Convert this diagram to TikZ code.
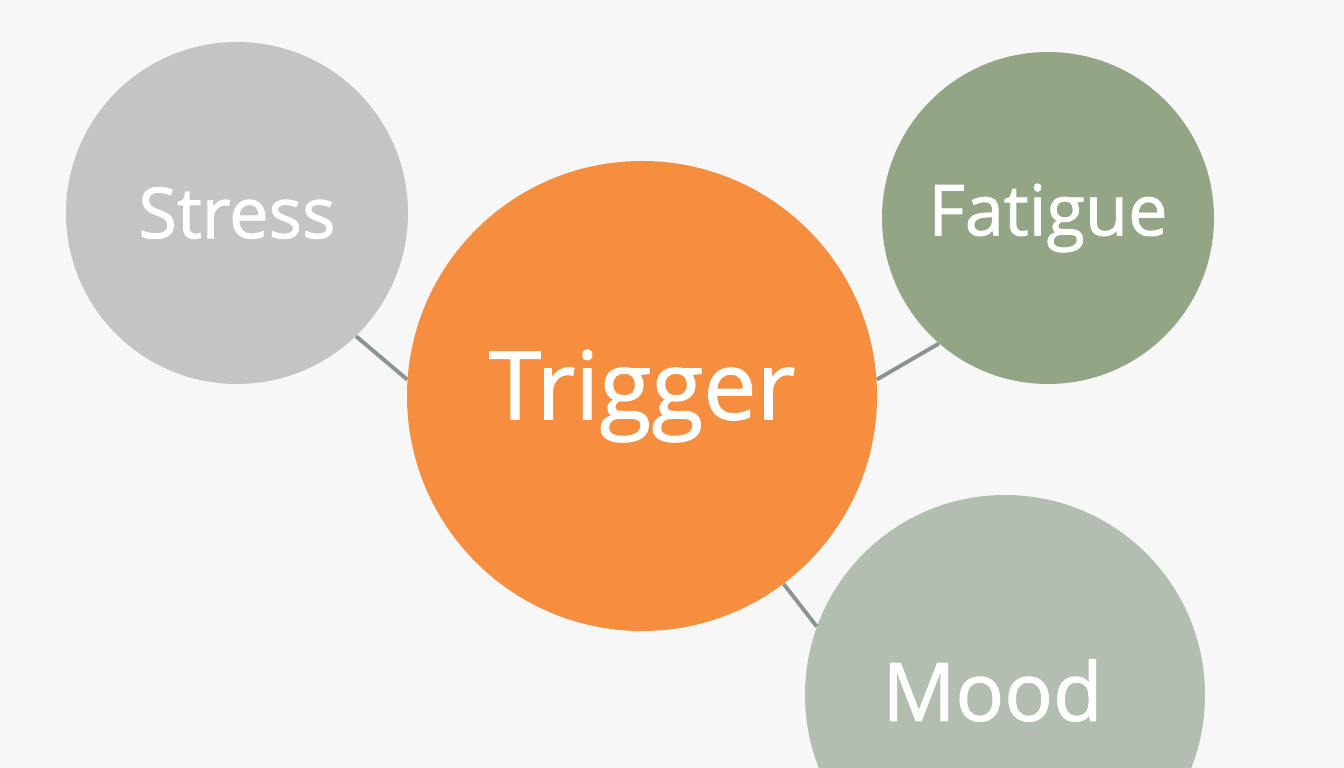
\documentclass[tikz,border=0pt]{standalone}
\usepackage{fontspec}
\setmainfont{Open Sans}[AutoFakeBold=1.2]
\definecolor{bgcol}{HTML}{F7F7F7}
\definecolor{stresscol}{HTML}{C4C4C2}
\definecolor{triggercol}{HTML}{F58E3F}
\definecolor{fatiguecol}{HTML}{93A585}
\definecolor{moodcol}{HTML}{B2BFB0}
\definecolor{linkcol}{HTML}{8A9590}
\tikzset{
  bubble/.style={circle, inner sep=0pt, text=white},
  link/.style={draw=linkcol, line width=2.2pt}
}
\begin{document}
\begin{tikzpicture}

    % canvas
    \clip (0, 0) rectangle (26.88, 15.36);
    \fill[bgcol] (0, 0) rectangle (26.88, 15.36);

    % bubbles
    \node[bubble, fill=stresscol, minimum size=6.84cm, font=\fontsize{40}{44}\selectfont\bfseries] (stress) at (4.74, 11.1) {Stress};
    \node[bubble, fill=triggercol, minimum size=9.4cm, font=\fontsize{54}{60}\selectfont\bfseries] (trigger) at (12.84, 7.44) {Trigger};
    \node[bubble, fill=fatiguecol, minimum size=6.64cm, font=\fontsize{40}{44}\selectfont\bfseries] (fatigue) at (20.96, 11.0) {Fatigue};
    \node[bubble, fill=moodcol, minimum size=8.0cm] (mood) at (20.1, 1.46) {};
    \node[text=white, font=\fontsize{46}{50}\selectfont\bfseries] (moodlabel) at (19.85, 1.55) {Mood};

    % links
    \draw[link] (stress.-46.7) -- (trigger.176);
    \draw[link] (trigger.4) -- (fatigue.-131.6);
    \draw[link] (trigger.-53) -- (mood.160);

\end{tikzpicture}
\end{document}
